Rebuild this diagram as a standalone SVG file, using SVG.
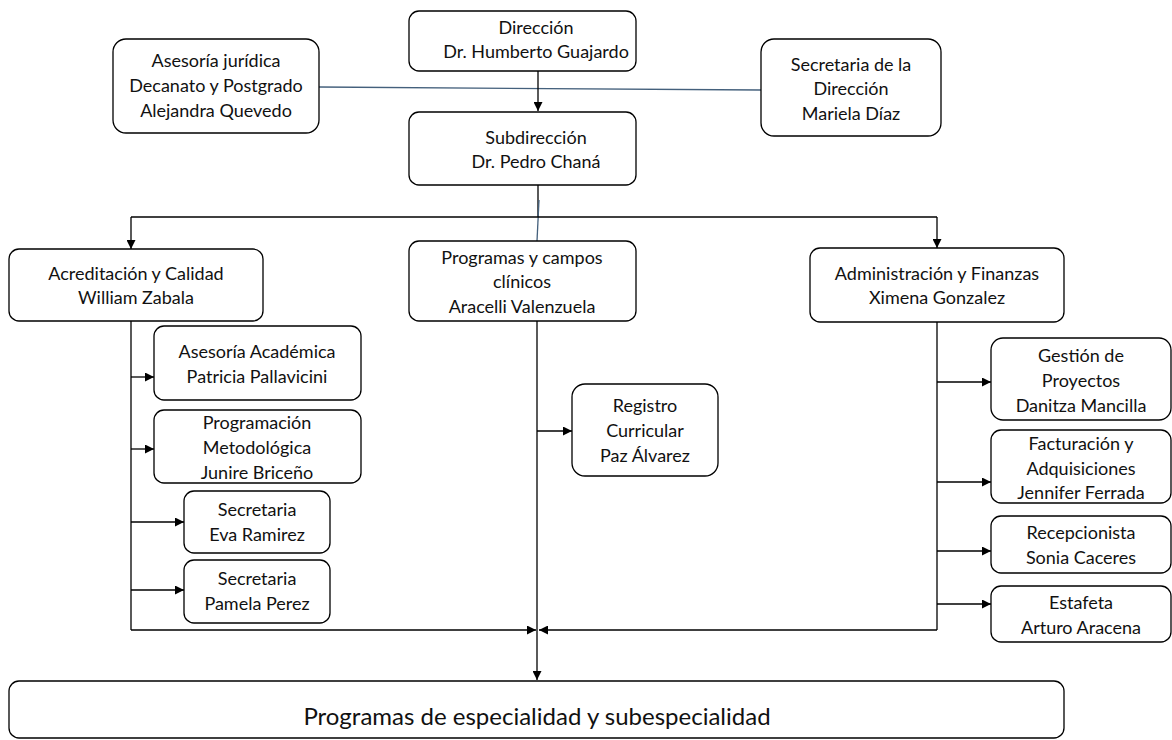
<svg xmlns="http://www.w3.org/2000/svg" width="1172" height="740" viewBox="0 0 1172 740">
<defs>
<style>
.box{fill:#fff;stroke:#000;stroke-width:1.3}
.t{font-family:Lato,"Open Sans","Liberation Sans",sans-serif;font-size:18px;fill:#111;text-anchor:middle}
.big{font-size:24px}
.c{fill:none;stroke:#000;stroke-width:1.3}
.b{fill:none;stroke:#44607c;stroke-width:1.3}
.a{marker-end:url(#ah)}
</style>
<marker id="ah" viewBox="0 0 10 10" refX="10" refY="5" markerWidth="9" markerHeight="9" markerUnits="userSpaceOnUse" orient="auto"><path d="M0,0 L10,5 L0,10 z" fill="#000"/></marker>
</defs>
<rect width="1172" height="740" fill="#fff"/>
<g id="connectors">
<path class="b" d="M319,87 L761,90"/>
<path class="c a" d="M538,71 V111"/>
<path class="c" d="M538,185 V217"/>
<path class="b" d="M539,200 L537,241"/>
<path class="c" d="M131,217 H937"/>
<path class="c a" d="M131,217 V249"/>
<path class="c a" d="M937,217 V248"/>
<path class="c" d="M131,319 V630"/>
<path class="c a" d="M131,377 H154"/>
<path class="c a" d="M131,449 H154"/>
<path class="c a" d="M131,522 H184"/>
<path class="c a" d="M131,590 H184"/>
<path class="c a" d="M131,630 H536"/>
<path class="c a" d="M537,321 V680"/>
<path class="c a" d="M537,431 H572"/>
<path class="c" d="M937,322 V630"/>
<path class="c a" d="M937,630 H539"/>
<path class="c a" d="M937,382 H991"/>
<path class="c a" d="M937,482 H991"/>
<path class="c a" d="M937,551 H991"/>
<path class="c a" d="M937,604 H991"/>
</g>
<g id="direccion"><rect class="box" x="409" y="11" width="227" height="60" rx="10"/><text class="t" x="536" y="34">Dirección</text><text class="t" x="536" y="58">Dr. Humberto Guajardo</text></g>
<g id="asesoria-juridica"><rect class="box" x="113" y="39" width="206" height="94" rx="13"/><text class="t" x="216" y="67">Asesoría jurídica</text><text class="t" x="216" y="92">Decanato y Postgrado</text><text class="t" x="216" y="117">Alejandra Quevedo</text></g>
<g id="secretaria-direccion"><rect class="box" x="761" y="39" width="180" height="97" rx="13"/><text class="t" x="851" y="71">Secretaria de la</text><text class="t" x="851" y="95">Dirección</text><text class="t" x="851" y="120">Mariela Díaz</text></g>
<g id="subdireccion"><rect class="box" x="409" y="112" width="227" height="73" rx="10"/><text class="t" x="536" y="144">Subdirección</text><text class="t" x="536" y="168">Dr. Pedro Chaná</text></g>
<g id="acreditacion"><rect class="box" x="9" y="249" width="254" height="72" rx="10"/><text class="t" x="136" y="280">Acreditación y Calidad</text><text class="t" x="136" y="304">William Zabala</text></g>
<g id="programas-campos"><rect class="box" x="409" y="241" width="227" height="80" rx="10"/><text class="t" x="522" y="264">Programas y campos</text><text class="t" x="522" y="288">clínicos</text><text class="t" x="522" y="313">Aracelli Valenzuela</text></g>
<g id="administracion"><rect class="box" x="810" y="248" width="254" height="74" rx="10"/><text class="t" x="937" y="280">Administración y Finanzas</text><text class="t" x="937" y="304">Ximena Gonzalez</text></g>
<g id="asesoria-academica"><rect class="box" x="154" y="326" width="207" height="74" rx="10"/><text class="t" x="257" y="358">Asesoría Académica</text><text class="t" x="257" y="383">Patricia Pallavicini</text></g>
<g id="programacion"><rect class="box" x="154" y="410" width="207" height="73" rx="10"/><text class="t" x="257" y="429">Programación</text><text class="t" x="257" y="454">Metodológica</text><text class="t" x="257" y="479">Junire Briceño</text></g>
<g id="secretaria-eva"><rect class="box" x="184" y="491" width="146" height="62" rx="10"/><text class="t" x="257" y="516">Secretaria</text><text class="t" x="257" y="541">Eva Ramirez</text></g>
<g id="secretaria-pamela"><rect class="box" x="184" y="560" width="146" height="63" rx="10"/><text class="t" x="257" y="585">Secretaria</text><text class="t" x="257" y="610">Pamela Perez</text></g>
<g id="registro"><rect class="box" x="572" y="384" width="146" height="92" rx="13"/><text class="t" x="645" y="412">Registro</text><text class="t" x="645" y="437">Curricular</text><text class="t" x="645" y="462">Paz Álvarez</text></g>
<g id="gestion"><rect class="box" x="991" y="338" width="180" height="82" rx="12"/><text class="t" x="1081" y="362">Gestión de</text><text class="t" x="1081" y="387">Proyectos</text><text class="t" x="1081" y="412">Danitza Mancilla</text></g>
<g id="facturacion"><rect class="box" x="991" y="430" width="180" height="73" rx="10"/><text class="t" x="1081" y="450">Facturación y</text><text class="t" x="1081" y="475">Adquisiciones</text><text class="t" x="1081" y="499">Jennifer Ferrada</text></g>
<g id="recepcionista"><rect class="box" x="991" y="516" width="180" height="57" rx="10"/><text class="t" x="1081" y="539">Recepcionista</text><text class="t" x="1081" y="564">Sonia Caceres</text></g>
<g id="estafeta"><rect class="box" x="991" y="586" width="180" height="56" rx="10"/><text class="t" x="1081" y="609">Estafeta</text><text class="t" x="1081" y="634">Arturo Aracena</text></g>
<g id="programas-especialidad"><rect class="box" x="9" y="681" width="1055" height="57" rx="10"/><text class="t big" x="537" y="725">Programas de especialidad y subespecialidad</text></g>
</svg>
